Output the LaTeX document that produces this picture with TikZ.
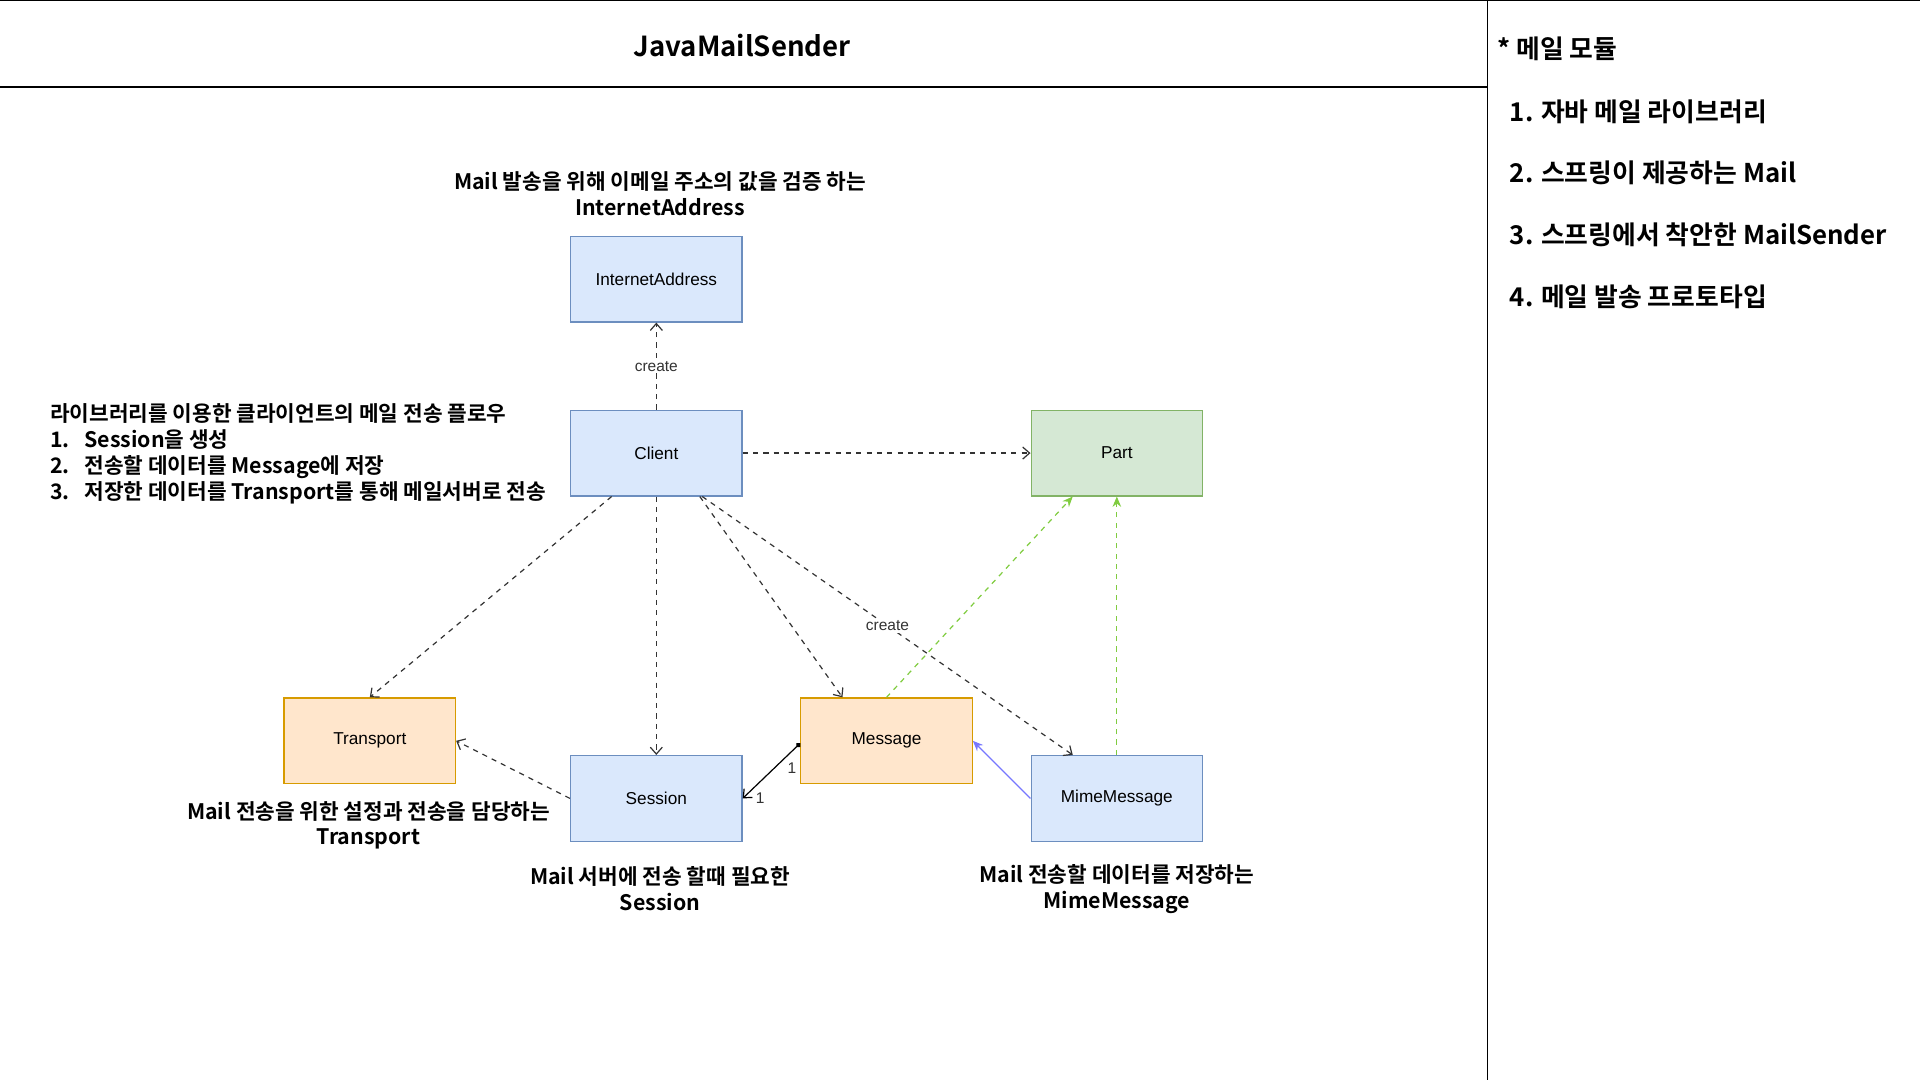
\documentclass[tikz,border=0pt]{standalone}
\usepackage{fontspec}
\setmainfont{Liberation Sans}
\newfontfamily\krfont{Noto Sans CJK KR}[BoldFont={Noto Sans CJK KR Bold}]
\usetikzlibrary{arrows.meta, positioning}

\definecolor{blueFill}{HTML}{DAE8FC}
\definecolor{blueLine}{HTML}{6C8EBF}
\definecolor{greenFill}{HTML}{D5E8D4}
\definecolor{greenLine}{HTML}{82B366}
\definecolor{orangeFill}{HTML}{FFE6CC}
\definecolor{orangeLine}{HTML}{D79B00}
\definecolor{greenArrow}{HTML}{80CC40}
\definecolor{blueArrow}{HTML}{7777FF}
\definecolor{depLine}{HTML}{333333}

\begin{document}
\begin{tikzpicture}[
    x=0.025cm, y=-0.025cm,
    box/.style={rectangle, draw, line width=0.7pt, minimum width=3.5cm, minimum height=1.75cm, text centered, font=\fontsize{10}{12}\selectfont},
    bluebox/.style={box, fill=blueFill, draw=blueLine},
    greenbox/.style={box, fill=greenFill, draw=greenLine},
    orangebox/.style={box, fill=orangeFill, draw=orangeLine},
    note/.style={font=\krfont\bfseries\fontsize{12.4}{15}\selectfont, align=center},
    heading/.style={font=\krfont\bfseries\fontsize{15}{18}\selectfont, anchor=west},
    dep/.style={depLine, line width=0.7pt, dash pattern=on 3pt off 3pt, -{Straight Barb[length=4pt,width=7pt]}},
    realize/.style={greenArrow, line width=0.7pt, dash pattern=on 3pt off 3pt, -{Stealth[length=6pt,width=5pt]}},
    inherit/.style={blueArrow, line width=0.7pt, -{Stealth[length=6pt,width=5pt]}},
    tag/.style={fill=white, inner sep=1pt, font=\fontsize{9}{10}\selectfont},
]
    \useasboundingbox (0,0) rectangle (1568,882);

    % Frame
    \draw[line width=0.7pt] (0,0) -- (1568,0);
    \draw[line width=0.7pt] (0,71) -- (1215,71);
    \draw[line width=0.7pt] (1215,0) -- (1215,882);

    % Title
    \node[font=\krfont\bfseries\fontsize{16}{18}\selectfont] (title) at (606,37) {JavaMailSender};

    % Right panel
    \node[heading] (modules) at (1218,40) {* 메일 모듈};
    \node[heading] (item1) at (1228,91) {1. 자바 메일 라이브러리};
    \node[heading] (item2) at (1228,141) {2. 스프링이 제공하는 Mail};
    \node[heading] (item3) at (1228,192) {3. 스프링에서 착안한 MailSender};
    \node[heading] (item4) at (1228,242) {4. 메일 발송 프로토타입};

    % Classes
    \node[bluebox] (client) at (536,370) {Client};
    \node[bluebox, above=1.775cm of client] (inet) {InternetAddress};
    \node[greenbox, right=5.875cm of client] (part) {Part};
    \node[bluebox, below=5.275cm of client] (session) {Session};
    \node[bluebox, right=5.875cm of session] (mime) {MimeMessage};
    \node[orangebox] (message) at (724,605) {Message};
    \node[orangebox] (transport) at (302,605) {Transport};

    % Notes
    \node[note] (inetnote) at (539,158) {Mail 발송을 위해 이메일 주소의 값을 검증 하는\\InternetAddress};
    \node[note, align=left, anchor=west] (flow) at (36,370.5) {라이브러리를 이용한 클라이언트의 메일 전송 플로우\\
        \makebox[0.7cm][l]{1.}Session을 생성\\
        \makebox[0.7cm][l]{2.}전송할 데이터를 Message에 저장\\
        \makebox[0.7cm][l]{3.}저장한 데이터를 Transport를 통해 메일서버로 전송};
    \node[note] (transportnote) at (301,674) {Mail 전송을 위한 설정과 전송을 담당하는\\Transport};
    \node[note] (sessionnote) at (539,726) {Mail 서버에 전송 할때 필요한\\Session};
    \node[note] (mimenote) at (912,726) {Mail 전송할 데이터를 저장하는\\MimeMessage};

    % Arrows
    \draw[dep] (client) -- node[tag] {create} (inet);
    \draw[dep] (client) -- (part);
    \draw[dep] ([xshift=0.85cm]client.south west) -- (transport.north);
    \draw[dep] (client) -- (session);
    \draw[dep] ([xshift=-0.875cm]client.south east) -- ([xshift=-0.9cm]message.north);
    \draw[dep] ([xshift=-0.825cm]client.south east) -- node[tag] {create} ([xshift=-0.9cm]mime.north);
    \draw[dep] (session.west) -- (transport.east);
    \draw[realize] (message.north) -- ([xshift=-0.9cm]part.south);
    \draw[realize] (mime) -- (part);
    \draw[inherit] (mime.west) -- (message.east);
    \draw[line width=0.7pt, {Circle[length=3pt]}-{Straight Barb[length=4pt,width=7pt]}] ([yshift=-0.05cm]message.west) -- (session.east)
        node[pos=0.45, right=4pt, font=\fontsize{9}{10}\selectfont, text=depLine] {1}
        node[pos=1, right=4pt, font=\fontsize{9}{10}\selectfont, text=depLine] {1};
\end{tikzpicture}
\end{document}
